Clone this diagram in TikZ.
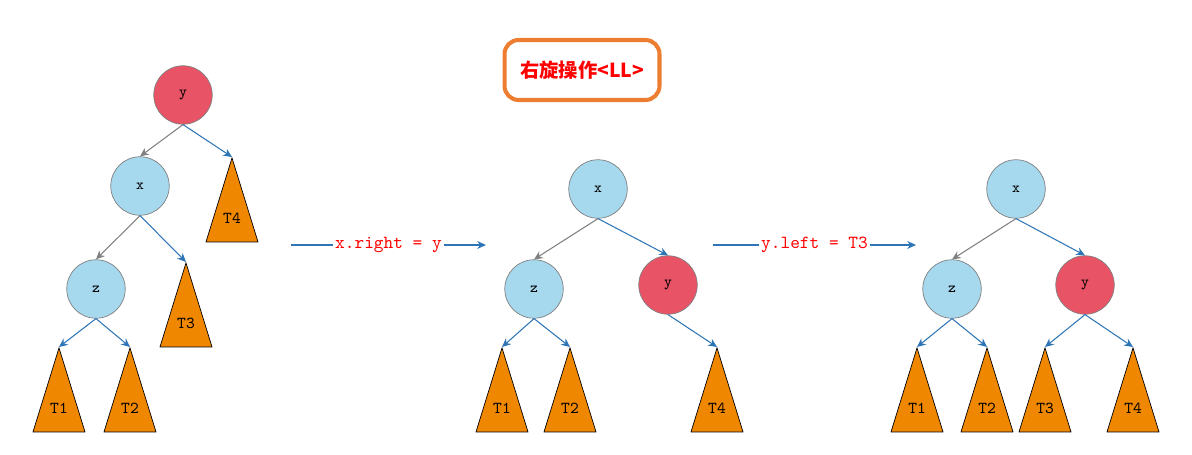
\documentclass[tikz,border=0pt]{standalone}
\usepackage{fontspec}
\newfontfamily\cjkfont{Noto Sans CJK SC}
\usetikzlibrary{shapes, arrows.meta, positioning}
\definecolor{nodeblue}{RGB}{166,216,238}
\definecolor{nodered}{RGB}{232,84,102}
\definecolor{treeorange}{RGB}{240,135,0}
\definecolor{linkblue}{RGB}{46,117,182}
\definecolor{linkgray}{RGB}{128,128,128}
\definecolor{titleorange}{RGB}{237,125,49}

\begin{document}
\begin{tikzpicture}[
        x=0.02cm, y=-0.02cm,
        bluenode/.style={circle, draw=linkgray, fill=nodeblue, minimum size=1.17cm, inner sep=0, font=\ttfamily\fontsize{8.5}{9}\selectfont},
        rednode/.style={bluenode, fill=nodered},
        subtree/.style={isosceles triangle, isosceles triangle stretches, shape border rotate=90,
            draw=black, fill=treeorange, minimum width=1.04cm, minimum height=1.68cm,
            inner sep=0, text depth=0.22cm, anchor=apex, font=\ttfamily\fontsize{9.5}{10}\selectfont},
        blink/.style={-{Stealth[length=5pt,width=4.5pt]}, draw=linkblue, line width=0.6pt},
        glink/.style={blink, draw=linkgray},
        oplabel/.style={fill=white, text=red, inner sep=1pt, font=\ttfamily\fontsize{10.5}{11}\selectfont},
        titlebox/.style={draw=titleorange, line width=2.3pt, rounded corners=8pt, fill=white,
            minimum width=3.1cm, minimum height=1.2cm, text=red, font=\cjkfont\bfseries\fontsize{11}{13}\selectfont}
    ]
        \useasboundingbox (0,0) rectangle (1192,455);

        % Title
        \node[titlebox] (title) at (582,70) {右旋操作<LL>};

        % Tree before rotation
        \node[rednode] (y1) at (183,95) {y};
        \node[bluenode] (x1) at (140,186) {x};
        \node[bluenode] (z1) at (96,289) {z};
        \node[subtree] (t41) at (232,157) {T4};
        \node[subtree] (t31) at (186,262) {T3};
        \node[subtree] (t11) at (59,347) {T1};
        \node[subtree] (t21) at (130,347) {T2};

        \draw[glink] (y1.south) -- (x1.north);
        \draw[blink] (y1.south) -- (t41.apex);
        \draw[glink] (x1.south) -- (z1.north);
        \draw[blink] (x1.south) -- (t31.apex);
        \draw[blink] (z1.south) -- (t11.apex);
        \draw[blink] (z1.south) -- (t21.apex);

        % Step 1
        \coordinate (s1a) at (291,245);
        \coordinate (s1b) at (486,245);
        \draw[blink] (s1a) -- node[oplabel] {x.right = y} (s1b);

        % Tree after x.right = y
        \node[bluenode] (x2) at (598,189) {x};
        \node[bluenode] (z2) at (534,289) {z};
        \node[rednode] (y2) at (668,285) {y};
        \node[subtree] (t12) at (502,347) {T1};
        \node[subtree] (t22) at (570,347) {T2};
        \node[subtree] (t42) at (717,347) {T4};

        \draw[glink] (x2.south) -- (z2.north);
        \draw[blink] (x2.south) -- (y2.north);
        \draw[blink] (z2.south) -- (t12.apex);
        \draw[blink] (z2.south) -- (t22.apex);
        \draw[blink] (y2.south) -- (t42.apex);

        % Step 2
        \coordinate (s2a) at (713,245);
        \coordinate (s2b) at (916,245);
        \draw[blink] (s2a) -- node[oplabel] {y.left = T3} (s2b);

        % Tree after y.left = T3
        \node[bluenode] (x3) at (1016,189) {x};
        \node[bluenode] (z3) at (952,289) {z};
        \node[rednode] (y3) at (1085,285) {y};
        \node[subtree] (t13) at (917,347) {T1};
        \node[subtree] (t23) at (987,347) {T2};
        \node[subtree] (t33) at (1045,347) {T3};
        \node[subtree] (t43) at (1133,347) {T4};

        \draw[glink] (x3.south) -- (z3.north);
        \draw[blink] (x3.south) -- (y3.north);
        \draw[blink] (z3.south) -- (t13.apex);
        \draw[blink] (z3.south) -- (t23.apex);
        \draw[blink] (y3.south) -- (t33.apex);
        \draw[blink] (y3.south) -- (t43.apex);

    \end{tikzpicture}
\end{document}
